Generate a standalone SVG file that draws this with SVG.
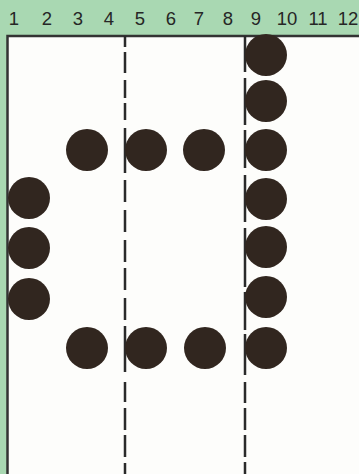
<svg xmlns="http://www.w3.org/2000/svg" width="359" height="474" viewBox="0 0 359 474">
<style>
.num{font-family:"Liberation Sans",Arial,sans-serif;font-size:18.5px;fill:#262626;text-anchor:middle}
.dot{fill:#31261f}
.guide{stroke:#2a2a2a;stroke-width:2.5;fill:none}
</style>
<rect width="359" height="474" fill="#a9d8b2"/>
<rect x="8" y="36" width="351" height="438" fill="#fdfdfb"/>
<g id="border"><path d="M7.5 474V36H359" fill="none" stroke="#333" stroke-width="2.5"/></g>
<g id="numbers">
<text class="num" x="14" y="25">1</text>
<text class="num" x="47" y="25">2</text>
<text class="num" x="78" y="25">3</text>
<text class="num" x="109" y="25">4</text>
<text class="num" x="140" y="25">5</text>
<text class="num" x="171" y="25">6</text>
<text class="num" x="199" y="25">7</text>
<text class="num" x="228" y="25">8</text>
<text class="num" x="256" y="25">9</text>
<text class="num" x="287" y="25">10</text>
<text class="num" x="318" y="25">11</text>
<text class="num" x="348" y="25">12</text>
</g>
<g id="connectors">
<path class="guide" d="M125 36V47M125 52V73M125 80V98M125 103V120M125 128V173M125 180V202M125 210V232M125 240V262M125 268V290M125 298V320M125 326V372M125 382V402M125 408V430M125 435V457M125 463V474"/>
<path class="guide" d="M245 36V72M245 78V125M245 130V168M245 175V222M245 228V287M245 292V330M245 334V375M245 382V403M245 408V430M245 435V457M245 462V474"/>
</g>
<g id="col9">
<circle class="dot" cx="266" cy="55" r="21"/>
<circle class="dot" cx="266" cy="101" r="21"/>
<circle class="dot" cx="266" cy="150" r="21"/>
<circle class="dot" cx="266" cy="199" r="21"/>
<circle class="dot" cx="266" cy="247" r="21"/>
<circle class="dot" cx="266" cy="297" r="21"/>
<circle class="dot" cx="266" cy="348" r="21"/>
</g>
<g id="row-top">
<circle class="dot" cx="87" cy="150" r="21"/>
<circle class="dot" cx="146" cy="150" r="21"/>
<circle class="dot" cx="204" cy="150" r="21"/>
</g>
<g id="row-bottom">
<circle class="dot" cx="87" cy="348" r="21"/>
<circle class="dot" cx="146" cy="348" r="21"/>
<circle class="dot" cx="205" cy="348" r="21"/>
</g>
<g id="col1">
<circle class="dot" cx="29" cy="198" r="21"/>
<circle class="dot" cx="29" cy="248" r="21"/>
<circle class="dot" cx="29" cy="299" r="21"/>
</g>
</svg>
